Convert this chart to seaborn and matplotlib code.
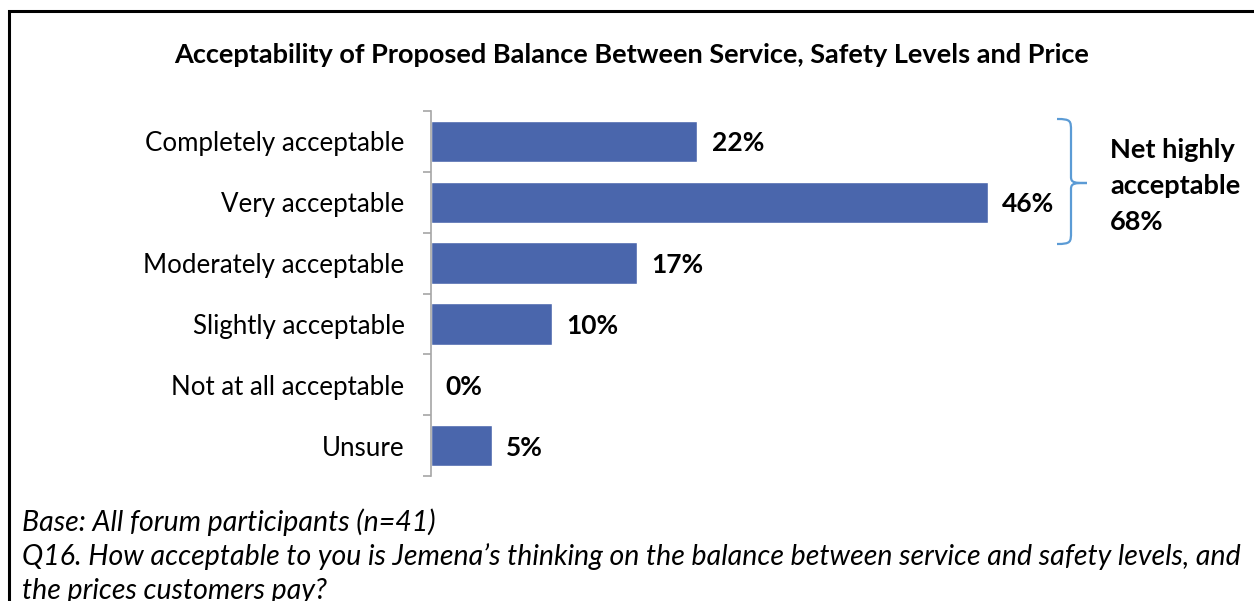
import matplotlib
matplotlib.use("Agg")
import matplotlib.pyplot as plt
from matplotlib.path import Path
from matplotlib.patches import PathPatch, Rectangle
import seaborn as sns
import pandas as pd

categories = ["Completely acceptable", "Very acceptable", "Moderately acceptable",
              "Slightly acceptable", "Not at all acceptable", "Unsure"]
values = [22, 46, 17, 10, 0, 5]
net_label = ["Net highly", "acceptable", "68%"]
title = "Acceptability of Proposed Balance Between Service, Safety Levels and Price"
notes = ["Base: All forum participants (n=41)",
         "Q16. How acceptable to you is Jemena\u2019s thinking on the balance between service and safety levels, and",
         "the prices customers pay?"]

sns.set_theme(style="white")
plt.rcParams["font.family"] = ["Lato", "DejaVu Sans"]

W, H = 1254, 601
fig = plt.figure(figsize=(W / 100, H / 100), dpi=100)
fig.patch.set_facecolor("white")

def fx(px):
    return px / W

def fy(py):
    return 1 - py / H

ax = fig.add_axes([fx(431), fy(476), fx(1040) - fx(431), fy(111) - fy(476)])
df = pd.DataFrame({"category": categories, "value": values})
sns.barplot(data=df, y="category", x="value", orient="h", color="#4A66AC",
            width=0.68, saturation=1, ax=ax)
ax.set_xlim(0, (1040 - 431) / 12.1)
ax.set_ylim(len(categories) - 0.5, -0.5)
ax.set_xlabel("")
ax.set_ylabel("")
ax.set_xticks([])
for s in ["top", "right", "bottom"]:
    ax.spines[s].set_visible(False)
ax.spines["left"].set_color("#A6A6A6")
ax.spines["left"].set_linewidth(1.2)
ax.set_yticks([i - 0.5 for i in range(len(categories) + 1)], minor=True)
ax.tick_params(axis="y", which="minor", left=True, length=6, width=1.2, color="#A6A6A6")
ax.tick_params(axis="y", which="major", left=False, length=0, pad=19, labelsize=18.6,
               labelcolor="black")

for i, v in enumerate(values):
    ax.text(v + 1.2, i, f"{v}%", va="center_baseline", ha="left", fontsize=19,
            fontweight="bold", color="black")

fig.text(fx(632), fy(53), title, ha="center", va="center_baseline", fontsize=19.5,
         fontweight="bold", color="black")

# curly brace grouping the top two rows
bx, top, bot, mid = 1057, 119, 244, 183
verts = [
    (bx, top), (bx + 14, top), (bx + 14, top + 2), (bx + 14, top + 12),
    (bx + 14, mid - 6),
    (bx + 14, mid), (bx + 18, mid), (bx + 30, mid),
    (bx + 18, mid), (bx + 14, mid), (bx + 14, mid + 6),
    (bx + 14, bot - 12),
    (bx + 14, bot - 2), (bx + 14, bot), (bx, bot),
]
codes = [Path.MOVETO, Path.CURVE4, Path.CURVE4, Path.CURVE4,
         Path.LINETO,
         Path.CURVE4, Path.CURVE4, Path.CURVE4,
         Path.CURVE4, Path.CURVE4, Path.CURVE4,
         Path.LINETO,
         Path.CURVE4, Path.CURVE4, Path.CURVE4]
fig_verts = [(fx(x), fy(y)) for x, y in verts]
fig.add_artist(PathPatch(Path(fig_verts, codes), transform=fig.transFigure,
                         facecolor="none", edgecolor="#5B9BD5", linewidth=1.6))

for k, line in enumerate(net_label):
    fig.text(fx(1110), fy(148 + 36 * k), line, ha="left", va="center_baseline",
             fontsize=19.5, fontweight="bold", color="black")

for k, line in enumerate(notes):
    fig.text(fx(22), fy(520 + 34 * k), line, ha="left", va="center_baseline",
             fontsize=20.5, fontstyle="italic", color="black")

# frame around the chart area
fig.add_artist(Rectangle((fx(9), fy(H + 20)), fx(W + 40), fy(11) - fy(H + 20),
                         transform=fig.transFigure, fill=False,
                         edgecolor="black", linewidth=2.2))

fig.savefig("out.png", dpi=100)
